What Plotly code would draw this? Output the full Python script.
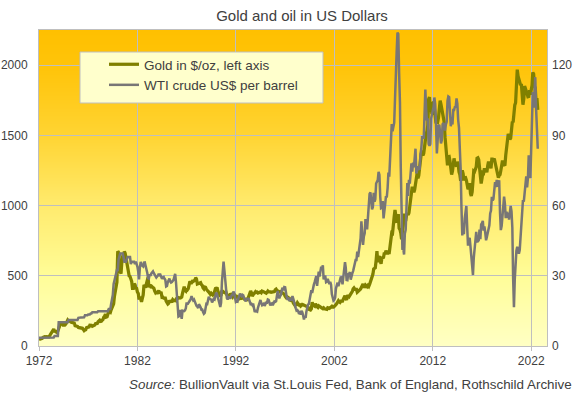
import base64, struct, zlib
import pandas as pd
import plotly.graph_objects as go

# ---------------- data (monthly, Jan 1972 - Sep 2022) ----------------
start_month = "1972-01-01"

gold_usd_oz = [
    46, 48, 48, 49, 55, 62, 66, 67, 66, 65, 63, 64,            # 1972
    65, 74, 84, 91, 102, 120, 120, 107, 103, 100, 95, 107,     # 1973
    129, 150, 168, 172, 163, 154, 143, 155, 152, 159, 182, 184,  # 1974
    176, 180, 178, 170, 167, 164, 165, 163, 144, 143, 143, 139,  # 1975
    132, 131, 133, 128, 127, 126, 118, 109, 114, 116, 131, 134,  # 1976
    132, 136, 148, 149, 147, 141, 143, 145, 149, 159, 162, 160,  # 1977
    173, 178, 184, 175, 176, 184, 189, 206, 212, 227, 206, 208,  # 1978
    227, 246, 242, 239, 258, 279, 295, 301, 355, 392, 393, 455,  # 1979
    675, 665, 555, 520, 515, 600, 645, 627, 674, 661, 623, 595,  # 1980
    557, 500, 499, 495, 480, 460, 410, 410, 443, 437, 413, 410,  # 1981
    384, 374, 330, 350, 334, 315, 339, 364, 435, 422, 415, 445,  # 1982
    480, 490, 420, 433, 437, 413, 422, 416, 411, 393, 381, 388,  # 1983
    370, 386, 394, 381, 377, 378, 347, 348, 341, 340, 341, 320,  # 1984
    303, 299, 304, 325, 316, 317, 317, 330, 323, 326, 325, 322,  # 1985
    345, 338, 345, 340, 342, 343, 348, 376, 418, 423, 396, 391,  # 1986
    408, 401, 409, 438, 460, 450, 450, 461, 460, 465, 467, 486,  # 1987
    477, 442, 444, 452, 451, 451, 437, 431, 413, 406, 420, 418,  # 1988
    404, 388, 390, 384, 371, 368, 375, 365, 362, 366, 394, 409,  # 1989
    410, 417, 393, 374, 369, 352, 362, 395, 389, 381, 381, 378,  # 1990
    383, 364, 363, 358, 357, 367, 368, 357, 349, 359, 360, 361,  # 1991
    354, 354, 345, 338, 337, 341, 353, 340, 345, 344, 335, 334,  # 1992
    329, 330, 330, 342, 367, 372, 392, 379, 355, 364, 373, 383,  # 1993
    387, 382, 384, 377, 381, 386, 385, 380, 391, 389, 384, 379,  # 1994
    379, 376, 382, 391, 385, 387, 386, 383, 383, 383, 386, 387,  # 1995
    400, 405, 396, 393, 392, 385, 383, 387, 383, 381, 378, 369,  # 1996
    355, 347, 352, 344, 344, 341, 324, 324, 323, 325, 306, 289,  # 1997
    289, 297, 296, 308, 299, 292, 293, 284, 289, 296, 294, 291,  # 1998
    287, 288, 286, 282, 277, 262, 256, 257, 265, 311, 293, 283,  # 1999
    284, 300, 286, 280, 275, 286, 282, 275, 273, 270, 266, 272,  # 2000
    265, 262, 263, 261, 272, 270, 268, 273, 283, 283, 276, 276,  # 2001
    282, 296, 294, 302, 314, 322, 314, 310, 319, 317, 319, 333,  # 2002
    357, 359, 340, 328, 355, 356, 351, 360, 379, 378, 389, 407,  # 2003
    414, 405, 406, 404, 383, 392, 398, 400, 406, 420, 439, 442,  # 2004
    424, 423, 434, 429, 422, 431, 424, 438, 456, 470, 476, 510,  # 2005
    549, 555, 557, 610, 676, 596, 633, 632, 599, 585, 627, 629,  # 2006
    631, 665, 655, 679, 667, 655, 665, 665, 712, 754, 806, 803,  # 2007
    889, 922, 968, 909, 888, 889, 939, 839, 829, 806, 760, 816,  # 2008
    858, 943, 924, 890, 928, 946, 934, 949, 996, 1043, 1127, 1134,  # 2009
    1118, 1095, 1113, 1148, 1205, 1232, 1193, 1215, 1271, 1342, 1370, 1391,  # 2010
    1356, 1372, 1424, 1473, 1510, 1529, 1572, 1756, 1772, 1666, 1739, 1652,  # 2011
    1656, 1742, 1673, 1650, 1585, 1596, 1594, 1626, 1744, 1747, 1721, 1688,  # 2012
    1671, 1627, 1593, 1487, 1414, 1343, 1286, 1347, 1349, 1316, 1275, 1221,  # 2013
    1244, 1300, 1336, 1299, 1287, 1279, 1311, 1296, 1239, 1222, 1176, 1201,  # 2014
    1251, 1227, 1179, 1198, 1199, 1181, 1128, 1117, 1125, 1159, 1086, 1068,  # 2015
    1097, 1199, 1246, 1242, 1260, 1276, 1337, 1340, 1326, 1267, 1238, 1157,  # 2016
    1192, 1234, 1231, 1266, 1246, 1260, 1236, 1283, 1314, 1280, 1283, 1265,  # 2017
    1331, 1331, 1325, 1335, 1303, 1282, 1238, 1202, 1198, 1215, 1220, 1250,  # 2018
    1291, 1320, 1300, 1286, 1284, 1359, 1413, 1500, 1510, 1495, 1471, 1480,  # 2019
    1560, 1597, 1592, 1683, 1715, 1732, 1847, 1968, 1921, 1900, 1866, 1858,  # 2020
    1867, 1808, 1718, 1760, 1850, 1834, 1807, 1785, 1775, 1777, 1821, 1790,  # 2021
    1816, 1856, 1948, 1937, 1849, 1837, 1733, 1765, 1681,                    # 2022
]

wti_usd_bbl = [
    3.56, 3.56, 3.56, 3.56, 3.56, 3.56, 3.56, 3.56, 3.56, 3.56, 3.56, 3.56,  # 1972
    3.56, 3.56, 3.56, 3.56, 3.56, 3.66, 3.66, 4.31, 4.31, 4.31, 4.31, 4.31,  # 1973
    10.11, 10.11, 10.11, 10.11, 10.11, 10.11, 10.11, 10.11, 10.11, 10.11, 10.11, 10.11,  # 1974
    11.16, 11.16, 11.16, 11.16, 11.16, 11.16, 11.16, 11.16, 11.16, 11.16, 11.16, 11.16,  # 1975
    12.03, 12.17, 12.17, 12.17, 12.17, 12.17, 12.22, 12.22, 13.10, 13.10, 13.10, 13.10,  # 1976
    13.50, 13.50, 13.50, 13.90, 13.90, 14.40, 14.40, 14.40, 14.40, 14.40, 14.40, 14.40,  # 1977
    14.85, 14.85, 14.85, 14.85, 14.85, 14.85, 14.85, 14.85, 14.85, 14.85, 14.85, 14.85,  # 1978
    14.85, 15.85, 15.85, 15.85, 18.10, 20.00, 21.75, 26.50, 28.50, 29.00, 31.00, 32.50,  # 1979
    32.50, 37.00, 38.00, 39.50, 39.50, 39.50, 39.50, 38.00, 36.00, 36.00, 36.00, 37.00,  # 1980
    38.00, 38.00, 38.00, 38.00, 35.00, 36.00, 36.00, 36.00, 36.00, 35.00, 36.00, 35.00,  # 1981
    33.85, 31.56, 28.48, 33.45, 35.93, 34.57, 34.36, 33.99, 35.63, 35.68, 34.15, 31.72,  # 1982
    31.20, 29.00, 28.81, 30.61, 30.00, 31.00, 31.66, 31.90, 31.11, 30.41, 29.84, 29.24,  # 1983
    29.70, 30.05, 30.85, 30.26, 30.45, 29.76, 28.69, 29.32, 29.52, 28.75, 28.18, 25.43,  # 1984
    25.64, 27.31, 28.24, 28.81, 27.62, 27.13, 27.32, 27.81, 28.25, 29.54, 30.81, 27.23,  # 1985
    22.93, 15.46, 12.61, 12.84, 15.38, 13.43, 11.59, 15.10, 14.87, 14.90, 15.22, 16.11,  # 1986
    18.65, 17.75, 18.30, 18.68, 19.44, 20.07, 21.34, 20.31, 19.53, 19.86, 18.85, 17.28,  # 1987
    17.13, 16.80, 16.20, 17.86, 17.42, 16.53, 15.50, 15.52, 14.54, 13.77, 14.14, 16.38,  # 1988
    18.02, 17.94, 19.48, 21.07, 20.12, 20.05, 19.78, 18.58, 19.59, 20.10, 19.86, 21.10,  # 1989
    22.86, 22.11, 20.39, 18.43, 18.20, 16.70, 18.45, 27.31, 33.51, 36.04, 32.33, 27.28,  # 1990
    25.23, 20.48, 19.90, 20.83, 21.23, 20.19, 21.40, 21.69, 21.89, 23.23, 22.46, 19.50,  # 1991
    18.79, 19.01, 18.92, 20.23, 20.98, 22.39, 21.78, 21.34, 21.88, 21.69, 20.34, 19.41,  # 1992
    19.03, 20.09, 20.32, 20.25, 19.95, 19.09, 17.89, 18.01, 17.50, 18.15, 16.61, 14.52,  # 1993
    15.03, 14.78, 14.68, 16.42, 17.89, 19.06, 19.66, 18.38, 17.45, 17.72, 18.07, 17.16,  # 1994
    18.04, 18.57, 18.54, 19.90, 19.74, 18.45, 17.33, 18.02, 18.23, 17.43, 17.99, 19.03,  # 1995
    18.85, 19.09, 21.33, 23.50, 21.17, 20.42, 21.30, 21.90, 23.97, 24.88, 23.71, 25.23,  # 1996
    25.13, 22.18, 20.97, 19.70, 20.82, 19.26, 19.66, 19.95, 19.80, 21.33, 20.19, 18.33,  # 1997
    16.72, 16.06, 15.12, 15.35, 14.91, 13.72, 14.17, 13.47, 15.03, 14.46, 13.00, 11.35,  # 1998
    12.52, 12.01, 14.68, 17.31, 17.72, 17.92, 20.10, 21.28, 23.80, 22.69, 25.00, 26.10,  # 1999
    27.26, 29.37, 29.84, 25.72, 28.79, 31.82, 29.70, 31.26, 33.88, 33.11, 34.42, 28.44,  # 2000
    29.59, 29.61, 27.25, 27.49, 28.63, 27.60, 26.43, 27.37, 26.20, 22.17, 19.64, 19.39,  # 2001
    19.72, 20.72, 24.53, 26.18, 27.04, 25.52, 26.97, 28.39, 29.66, 28.84, 26.35, 29.46,  # 2002
    32.95, 35.83, 33.51, 28.17, 28.11, 30.66, 30.75, 31.57, 28.31, 30.34, 31.11, 32.13,  # 2003
    34.31, 34.69, 36.74, 36.75, 40.28, 38.03, 40.78, 44.90, 45.94, 53.28, 48.47, 43.15,  # 2004
    46.84, 48.15, 54.19, 52.98, 49.83, 56.35, 59.00, 64.99, 65.59, 62.26, 58.32, 59.41,  # 2005
    65.49, 61.63, 62.69, 69.44, 70.84, 70.95, 74.41, 73.04, 63.80, 58.89, 59.08, 61.96,  # 2006
    54.51, 59.28, 60.44, 63.98, 63.46, 67.49, 74.12, 72.36, 79.92, 85.80, 94.77, 91.69,  # 2007
    92.97, 95.39, 105.45, 112.58, 125.40, 133.88, 133.37, 116.67, 104.11, 76.61, 57.31, 41.12,  # 2008
    41.71, 39.09, 47.94, 49.65, 59.03, 69.64, 64.15, 71.05, 69.41, 75.72, 77.99, 74.47,  # 2009
    78.33, 76.39, 81.20, 84.29, 73.74, 75.34, 76.32, 76.60, 75.24, 81.89, 84.25, 89.15,  # 2010
    89.17, 88.58, 102.86, 109.53, 100.90, 96.26, 97.30, 86.33, 85.52, 86.32, 97.16, 98.56,  # 2011
    100.27, 102.20, 106.16, 103.32, 94.66, 82.30, 87.90, 94.13, 94.51, 89.49, 86.53, 87.86,  # 2012
    94.76, 95.31, 92.94, 92.02, 94.51, 95.77, 104.67, 106.57, 106.29, 100.54, 93.86, 97.63,  # 2013
    94.62, 100.82, 100.80, 102.07, 102.18, 105.79, 103.59, 96.54, 93.21, 84.40, 75.79, 59.29,  # 2014
    47.22, 50.58, 47.82, 54.45, 59.27, 59.82, 50.90, 42.87, 45.48, 46.22, 42.44, 37.19,  # 2015
    31.68, 30.32, 37.55, 40.75, 46.71, 48.76, 44.65, 44.72, 45.18, 49.78, 45.66, 51.97,  # 2016
    52.50, 53.47, 49.33, 51.06, 48.48, 45.18, 46.63, 48.04, 49.82, 51.58, 56.64, 57.88,  # 2017
    63.70, 62.23, 62.73, 66.25, 69.98, 67.87, 70.98, 68.06, 70.23, 70.75, 56.96, 49.52,  # 2018
    51.38, 54.95, 58.15, 63.86, 60.83, 54.66, 57.35, 54.81, 56.95, 53.96, 57.03, 59.88,  # 2019
    57.52, 50.54, 29.21, 16.55, 28.56, 38.31, 40.71, 42.34, 39.63, 39.40, 40.94, 47.02,  # 2020
    52.00, 59.04, 62.33, 61.72, 65.17, 71.38, 72.49, 67.73, 71.65, 81.48, 79.15, 71.71,  # 2021
    83.22, 91.64, 108.50, 101.78, 109.55, 114.84, 101.62, 93.67, 84.26,                    # 2022
]

x_tick_years = [1972, 1982, 1992, 2002, 2012, 2022]
gold_ticks = [0, 500, 1000, 1500, 2000]
oil_ticks = [0, 30, 60, 90, 120]

series_names = ["Gold in $/oz, left axis", "WTI crude US$ per barrel"]
title_text = "Gold and oil in US Dollars"
source_text = "<i>Source:</i> BullionVault via St.Louis Fed, Bank of England, Rothschild Archive"

# ---------------- styling ----------------
FONT = "Liberation Sans, Arial, sans-serif"
TXT = "#404040"
GRID = "#BFBFBF"
GOLD_C = "#808000"
OIL_C = "#787676"

W, H = 578, 397
L, R, T, B = 39, 31, 30, 51          # plot area: x 39..547, y 30..346
PW, PH = W - L - R, H - T - B


def px_x(px):
    return (px - L) / PW


def px_y(py):
    return (H - B - py) / PH


dates = pd.date_range(start_month, periods=len(gold_usd_oz), freq="MS")


def gradient_png(stops, height=320):
    rows = []
    for i in range(height):
        t = i / (height - 1)
        for (t0, c0), (t1, c1) in zip(stops[:-1], stops[1:]):
            if t0 <= t <= t1:
                f = (t - t0) / (t1 - t0) if t1 > t0 else 0
                rgb = [round(a + (b - a) * f) for a, b in zip(c0, c1)]
                break
        rows.append(b"\x00" + bytes(rgb))
    raw = b"".join(rows)

    def chunk(tag, data):
        c = struct.pack(">I", len(data)) + tag + data
        return c + struct.pack(">I", zlib.crc32(tag + data) & 0xFFFFFFFF)

    png = b"\x89PNG\r\n\x1a\n"
    png += chunk(b"IHDR", struct.pack(">IIBBBBB", 1, height, 8, 2, 0, 0, 0))
    png += chunk(b"IDAT", zlib.compress(raw))
    png += chunk(b"IEND", b"")
    return "data:image/png;base64," + base64.b64encode(png).decode()


bg_stops = [
    (0.0, (255, 192, 0)),
    (0.12, (255, 196, 10)),
    (0.33, (255, 212, 50)),
    (0.55, (255, 234, 108)),
    (0.78, (255, 253, 152)),
    (1.0, (255, 255, 196)),
]

fig = go.Figure()
fig.add_trace(go.Scatter(
    x=dates, y=gold_usd_oz, name=series_names[0], mode="lines",
    line=dict(color=GOLD_C, width=3.25), legendgroup="g1", yaxis="y",
))
fig.add_trace(go.Scatter(
    x=dates, y=wti_usd_bbl, name=series_names[1], mode="lines",
    line=dict(color=OIL_C, width=2.5), legendgroup="g2", yaxis="y2",
))

fig.update_layout(
    width=W, height=H,
    margin=dict(l=L, r=R, t=T, b=B, pad=0, autoexpand=False),
    paper_bgcolor="white",
    plot_bgcolor="rgba(0,0,0,0)",
    font=dict(family=FONT, size=12, color=TXT),
    title=dict(text=title_text, x=0.5225, xanchor="center", y=1 - 16 / H,
               yanchor="middle", font=dict(size=15, color=TXT, family=FONT)),
    xaxis=dict(
        type="date", range=["1972-01-01", "2023-08-10"],
        tickvals=[f"{y}-01-01" for y in x_tick_years],
        ticktext=[str(y) for y in x_tick_years],
        showgrid=True, gridcolor=GRID, gridwidth=1,
        showline=True, linecolor=GRID, linewidth=1, mirror=True,
        ticks="outside", ticklen=4, tickcolor=GRID,
        tickfont=dict(size=12, color=TXT), zeroline=False, automargin=False,
    ),
    yaxis=dict(
        range=[0, 2250], tickvals=gold_ticks, ticktext=[str(v) for v in gold_ticks],
        showgrid=True, gridcolor=GRID, gridwidth=1,
        showline=True, linecolor=GRID, linewidth=1, mirror=True,
        ticks="", ticklabelstandoff=8, zeroline=False, automargin=False,
        tickfont=dict(size=12, color=TXT),
    ),
    yaxis2=dict(
        range=[0, 135], tickvals=oil_ticks, ticktext=[str(v) for v in oil_ticks],
        overlaying="y", side="right", showgrid=False, zeroline=False,
        showline=False, ticks="", ticklabelstandoff=4, automargin=False,
        tickfont=dict(size=12, color=TXT),
    ),
    showlegend=True,
    legend=dict(
        x=px_x(104), y=px_y(49), xanchor="left", yanchor="top",
        bgcolor="rgba(0,0,0,0)", borderwidth=0,
        font=dict(size=13.5, color=TXT, family=FONT),
        tracegroupgap=13, itemwidth=30, traceorder="normal",
    ),
    images=[dict(
        source=gradient_png(bg_stops), xref="paper", yref="paper",
        x=0, y=1, sizex=1, sizey=1, xanchor="left", yanchor="top",
        sizing="stretch", layer="below",
    )],
    shapes=[dict(
        type="rect", xref="paper", yref="paper",
        x0=px_x(80), x1=px_x(323), y0=px_y(103), y1=px_y(52),
        fillcolor="#FFFFCC", line=dict(color=GRID, width=1), layer="above",
    )],
    annotations=[dict(
        text=source_text, xref="paper", yref="paper",
        x=px_x(574), xanchor="right",
        y=px_y(384), yanchor="middle",
        showarrow=False, font=dict(size=13.4, color=TXT, family=FONT),
    )],
)

fig.write_html(
    "out.html",
    config={"displayModeBar": False},
    post_script="document.body.style.margin='0';document.body.style.overflow='hidden';",
)
